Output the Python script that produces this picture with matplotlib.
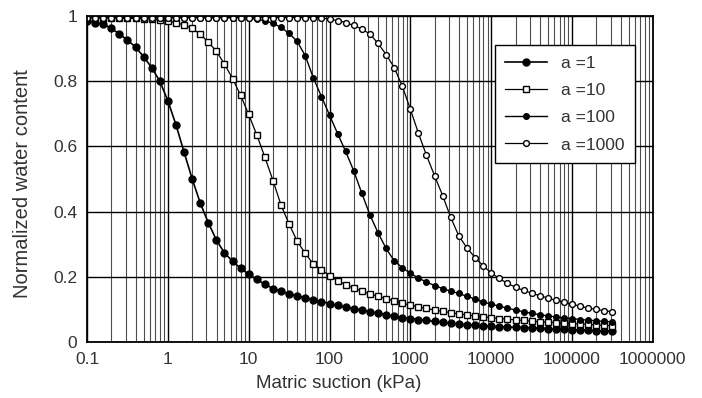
import matplotlib
matplotlib.use("Agg")
import matplotlib.pyplot as plt
from matplotlib.ticker import LogLocator, NullFormatter, FixedLocator, FixedFormatter

plt.rcParams['font.family'] = ['Liberation Sans', 'DejaVu Sans']

# matric suction (kPa), 10 points per decade
suction = [0.1, 0.126, 0.158, 0.2, 0.251, 0.316, 0.398, 0.501, 0.631, 0.794,
           1.0, 1.26, 1.58, 2.0, 2.51, 3.16, 3.98, 5.01, 6.31, 7.94,
           10.0, 12.6, 15.8, 20.0, 25.1, 31.6, 39.8, 50.1, 63.1, 79.4,
           100, 126, 158, 200, 251, 316, 398, 501, 631, 794,
           1000, 1260, 1580, 2000, 2510, 3160, 3980, 5010, 6310, 7940,
           10000, 12600, 15800, 20000, 25100, 31600, 39800, 50100, 63100, 79400,
           100000, 126000, 158000, 200000, 251000, 316000]

theta_a1 = [0.985, 0.980, 0.975, 0.962, 0.945, 0.926, 0.905, 0.875, 0.842, 0.800,
            0.740, 0.666, 0.584, 0.500, 0.427, 0.366, 0.313, 0.273, 0.248, 0.226,
            0.208, 0.192, 0.177, 0.164, 0.155, 0.147, 0.141, 0.136, 0.130, 0.124,
            0.118, 0.112, 0.107, 0.102, 0.097, 0.093, 0.088, 0.084, 0.079, 0.075,
            0.072, 0.069, 0.066, 0.063, 0.060, 0.058, 0.055, 0.053, 0.051, 0.050,
            0.048, 0.047, 0.046, 0.045, 0.044, 0.043, 0.042, 0.041, 0.040, 0.039,
            0.038, 0.037, 0.036, 0.035, 0.034, 0.033]

theta_a10 = [0.995, 0.995, 0.995, 0.994, 0.994, 0.993, 0.993, 0.992, 0.990, 0.988,
             0.985, 0.979, 0.973, 0.962, 0.944, 0.920, 0.892, 0.853, 0.808, 0.757,
             0.698, 0.635, 0.568, 0.495, 0.420, 0.362, 0.309, 0.272, 0.239, 0.221,
             0.204, 0.188, 0.176, 0.165, 0.156, 0.148, 0.140, 0.133, 0.126, 0.119,
             0.113, 0.108, 0.103, 0.098, 0.094, 0.090, 0.086, 0.083, 0.080, 0.077,
             0.075, 0.072, 0.070, 0.068, 0.066, 0.064, 0.062, 0.061, 0.059, 0.058,
             0.056, 0.055, 0.054, 0.052, 0.051, 0.050]

theta_a100 = [0.995, 0.995, 0.995, 0.995, 0.995, 0.995, 0.995, 0.995, 0.995, 0.995,
              0.995, 0.995, 0.995, 0.995, 0.995, 0.995, 0.995, 0.995, 0.995, 0.995,
              0.993, 0.990, 0.986, 0.978, 0.965, 0.947, 0.922, 0.878, 0.810, 0.753,
              0.696, 0.639, 0.585, 0.524, 0.456, 0.390, 0.335, 0.287, 0.249, 0.228,
              0.211, 0.196, 0.184, 0.173, 0.164, 0.156, 0.149, 0.140, 0.132, 0.123,
              0.116, 0.110, 0.104, 0.098, 0.093, 0.088, 0.084, 0.080, 0.077, 0.074,
              0.072, 0.069, 0.067, 0.065, 0.063, 0.062]

theta_a1000 = [0.995, 0.995, 0.995, 0.995, 0.995, 0.995, 0.995, 0.995, 0.995, 0.995,
               0.995, 0.995, 0.995, 0.995, 0.995, 0.995, 0.995, 0.995, 0.995, 0.995,
               0.995, 0.995, 0.995, 0.995, 0.995, 0.995, 0.995, 0.995, 0.995, 0.995,
               0.990, 0.986, 0.980, 0.971, 0.960, 0.945, 0.916, 0.882, 0.842, 0.785,
               0.714, 0.640, 0.573, 0.509, 0.449, 0.382, 0.325, 0.289, 0.259, 0.234,
               0.212, 0.195, 0.180, 0.168, 0.158, 0.150, 0.142, 0.135, 0.128, 0.122,
               0.116, 0.110, 0.104, 0.100, 0.096, 0.093]

labels = ['a =1', 'a =10', 'a =100', 'a =1000']
x_ticks = [0.1, 1, 10, 100, 1000, 10000, 100000, 1000000]
x_tick_labels = ['0.1', '1', '10', '100', '1000', '10000', '100000', '1000000']
y_ticks = [0, 0.2, 0.4, 0.6, 0.8, 1]
y_tick_labels = ['0', '0.2', '0.4', '0.6', '0.8', '1']

fig = plt.figure(figsize=(7.02, 3.98), dpi=100)
ax = fig.add_axes([0.124, 0.1407, 0.806, 0.819])

ax.plot(suction, theta_a1, '-o', color='black', lw=1.2, ms=5,
        mfc='black', mec='black', label=labels[0])
ax.plot(suction, theta_a10, '-s', color='black', lw=0.9, ms=4.2,
        mfc='white', mec='black', mew=1.0, label=labels[1])
ax.plot(suction, theta_a100, '-o', color='black', lw=1.0, ms=4,
        mfc='black', mec='black', label=labels[2])
ax.plot(suction, theta_a1000, '-o', color='black', lw=0.9, ms=4.2,
        mfc='white', mec='black', mew=1.0, label=labels[3])

ax.set_xscale('log')
ax.set_xlim(0.1, 1e6)
ax.set_ylim(0, 1)
ax.xaxis.set_major_locator(FixedLocator(x_ticks))
ax.xaxis.set_major_formatter(FixedFormatter(x_tick_labels))
ax.xaxis.set_minor_locator(LogLocator(base=10, subs=range(2, 10), numticks=20))
ax.xaxis.set_minor_formatter(NullFormatter())
ax.yaxis.set_major_locator(FixedLocator(y_ticks))
ax.yaxis.set_major_formatter(FixedFormatter(y_tick_labels))

ax.grid(which='major', color='black', lw=1.0)
ax.grid(which='minor', axis='x', color='0.3', lw=0.8)
ax.set_axisbelow(True)
for s in ax.spines.values():
    s.set_linewidth(1.3)
ax.tick_params(which='both', length=0, labelsize=12.5, colors='0.2')
ax.tick_params(axis='y', pad=7)
ax.tick_params(axis='x', pad=7)

ax.set_xlabel('Matric suction (kPa)', fontsize=13.5, color='0.2')
ax.set_ylabel('Normalized water content', fontsize=14.5, color='0.2')
ax.xaxis.set_label_coords(0.445, -0.1)
ax.yaxis.set_label_coords(-0.097, 0.485)

leg = ax.legend(loc='upper right', bbox_to_anchor=(0.968, 0.911), borderaxespad=0,
                fontsize=12.5, fancybox=False, edgecolor='black', framealpha=1,
                handlelength=2.4, borderpad=0.6, labelspacing=0.7)
leg.get_frame().set_linewidth(1.0)
for t in leg.get_texts():
    t.set_color('0.2')

fig.savefig('out.png', dpi=100)
